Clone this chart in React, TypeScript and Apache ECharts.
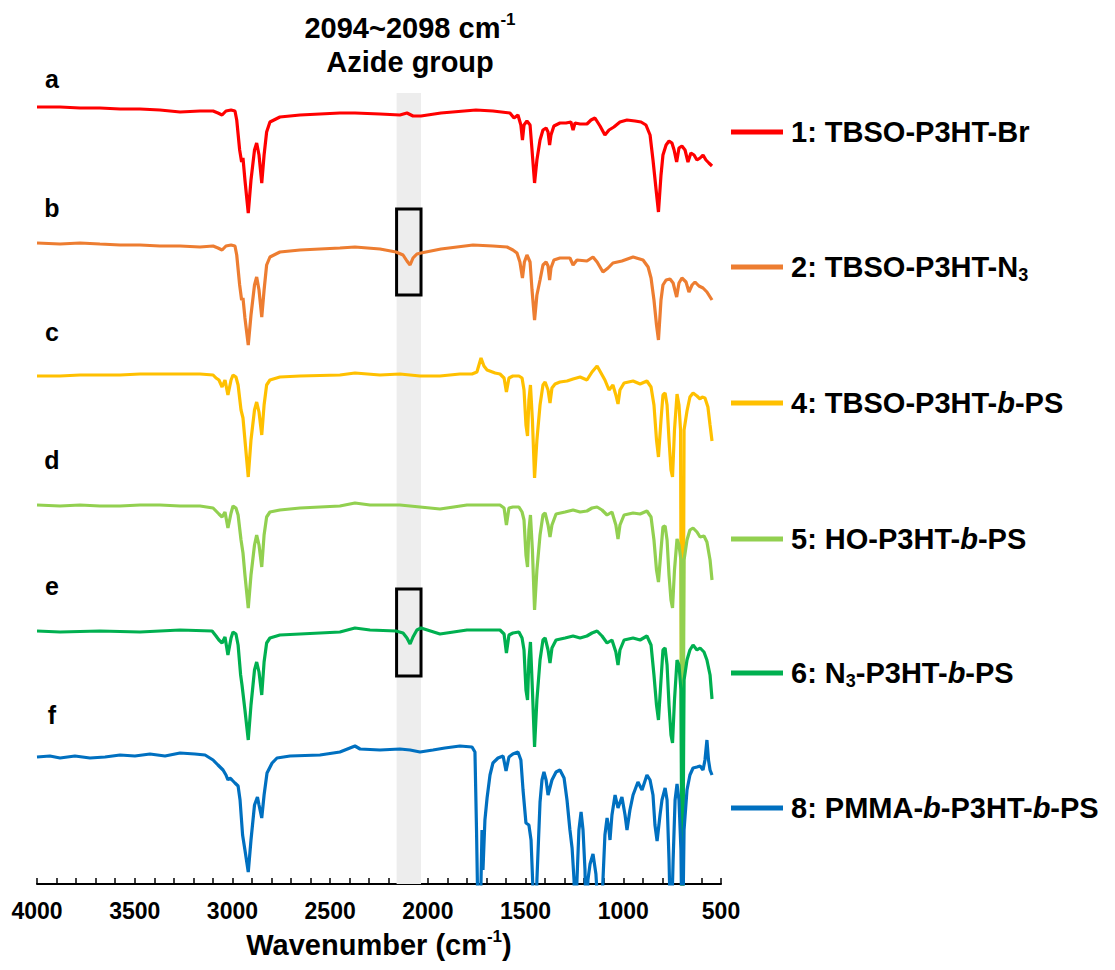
import React, { useEffect, useRef } from "react";
import * as echarts from "echarts";

const FONT = '"Liberation Sans", Arial, Helvetica, sans-serif';

const SERIES_NAMES = [
  "1: TBSO-P3HT-Br",
  "2: TBSO-P3HT-N3",
  "4: TBSO-P3HT-b-PS",
  "5: HO-P3HT-b-PS",
  "6: N3-P3HT-b-PS",
  "8: PMMA-b-P3HT-b-PS",
];
const LEGEND_RICH_TEXT: Record<string, string> = {
  "1: TBSO-P3HT-Br": "1: TBSO-P3HT-Br",
  "2: TBSO-P3HT-N3": "2: TBSO-P3HT-N{sub|3}",
  "4: TBSO-P3HT-b-PS": "4: TBSO-P3HT-{it|b}-PS",
  "5: HO-P3HT-b-PS": "5: HO-P3HT-{it|b}-PS",
  "6: N3-P3HT-b-PS": "6: N{sub|3}-P3HT-{it|b}-PS",
  "8: PMMA-b-P3HT-b-PS": "8: PMMA-{it|b}-P3HT-{it|b}-PS",
};
const SERIES_COLORS = ["#FF0000", "#ED7D31", "#FFC000", "#92D050", "#00B050", "#0070C0"];
const PANEL_LETTERS = ["a", "b", "c", "d", "e", "f"];

// x-axis (wavenumber, cm-1)
const WN_MIN = 500;
const WN_MAX = 4000;
const WN_INTERVAL = 500;
// y-axis: offset transmittance (a.u.)
const T_MIN = 0;
const T_MAX = 791;

// Azide region (cm-1) and the highlighted boxes (a.u.)
const AZIDE_BAND: [number, number] = [2160, 2035];
const AZIDE_BOXES: [number, number][] = [
  [589, 675],
  [208, 295],
];

// Spectra: [wavenumber, offset transmittance]
const spectrumA: [number, number][] = [
  [4000, 777], [3882, 777], [3780, 776], [3678, 776], [3575, 775], [3473, 775], [3371, 774], [3268, 772],
  [3166, 773], [3099, 773], [3074, 771], [3053, 769], [3033, 773], [3007, 774], [2987, 773], [2978, 764],
  [2963, 734], [2953, 722], [2946, 726], [2936, 704], [2919, 671], [2905, 704], [2887, 734], [2876, 741],
  [2864, 729], [2850, 701], [2838, 729], [2825, 752], [2808, 762], [2757, 767], [2654, 769], [2450, 771],
  [2373, 771], [2245, 770], [2143, 769], [2107, 771], [2076, 768], [2035, 768], [1933, 771], [1754, 774],
  [1667, 773], [1580, 771], [1559, 766], [1539, 769], [1524, 759], [1516, 744], [1508, 759], [1493, 763],
  [1477, 759], [1467, 734], [1454, 701], [1442, 724], [1426, 744], [1411, 754], [1395, 756], [1385, 752],
  [1377, 739], [1370, 749], [1355, 758], [1324, 761], [1293, 761], [1268, 762], [1257, 754], [1247, 761],
  [1221, 760], [1186, 760], [1165, 764], [1145, 766], [1119, 758], [1094, 749], [1073, 754], [1048, 757],
  [1017, 762], [981, 764], [940, 763], [909, 762], [884, 759], [863, 749], [848, 724], [832, 694],
  [820, 672], [807, 709], [797, 729], [781, 739], [766, 743], [751, 741], [740, 734], [727, 722],
  [715, 736], [700, 738], [684, 734], [669, 722], [654, 731], [638, 729], [623, 724], [607, 726],
  [592, 729], [577, 724], [562, 721], [546, 718],
];

const spectrumB: [number, number][] = [
  [4000, 641], [3882, 640], [3780, 641], [3678, 640], [3575, 639], [3473, 639], [3371, 638], [3268, 638],
  [3166, 637], [3099, 638], [3074, 636], [3053, 634], [3033, 638], [3007, 639], [2987, 638], [2978, 629],
  [2963, 599], [2953, 584], [2946, 586], [2936, 566], [2919, 539], [2905, 569], [2887, 599], [2876, 607],
  [2864, 594], [2850, 567], [2838, 594], [2825, 619], [2808, 627], [2757, 632], [2654, 634], [2450, 636],
  [2373, 637], [2245, 635], [2163, 632], [2127, 629], [2107, 623], [2091, 619], [2076, 626], [2056, 630],
  [2035, 631], [1933, 635], [1769, 639], [1667, 638], [1595, 637], [1565, 634], [1544, 631], [1529, 622],
  [1516, 606], [1506, 622], [1493, 629], [1477, 622], [1467, 594], [1454, 564], [1442, 589], [1426, 604],
  [1411, 619], [1395, 622], [1385, 618], [1377, 604], [1370, 616], [1355, 624], [1324, 626], [1273, 626],
  [1257, 619], [1237, 624], [1186, 623], [1155, 627], [1134, 622], [1104, 612], [1078, 616], [1053, 621],
  [1007, 623], [950, 627], [899, 624], [873, 617], [858, 606], [843, 584], [830, 559], [820, 544],
  [807, 584], [797, 599], [781, 604], [761, 605], [745, 601], [727, 587], [715, 601], [700, 606],
  [679, 602], [664, 592], [648, 599], [633, 602], [613, 598], [592, 596], [572, 592], [546, 584],
];

const spectrumC: [number, number][] = [
  [4000, 508], [3882, 508], [3780, 509], [3678, 509], [3575, 509], [3473, 510], [3371, 510], [3268, 510],
  [3166, 510], [3099, 509], [3084, 506], [3069, 504], [3053, 497], [3038, 504], [3023, 489], [3007, 504],
  [2997, 509], [2982, 507], [2971, 499], [2956, 474], [2946, 466], [2936, 444], [2919, 407], [2905, 444],
  [2887, 474], [2876, 482], [2864, 472], [2850, 449], [2838, 479], [2825, 499], [2808, 504], [2757, 507],
  [2654, 508], [2450, 509], [2373, 511], [2245, 509], [2143, 510], [2040, 508], [1938, 508], [1836, 510],
  [1774, 510], [1749, 512], [1728, 526], [1713, 518], [1697, 514], [1656, 511], [1631, 510], [1610, 506],
  [1598, 492], [1585, 506], [1565, 508], [1534, 508], [1518, 506], [1508, 494], [1498, 459], [1490, 448],
  [1483, 484], [1475, 499], [1465, 464], [1454, 406], [1442, 444], [1426, 479], [1411, 499], [1400, 502],
  [1385, 494], [1375, 481], [1365, 496], [1349, 500], [1324, 502], [1288, 503], [1257, 505], [1221, 507],
  [1186, 504], [1160, 512], [1134, 518], [1114, 511], [1094, 504], [1073, 494], [1053, 499], [1038, 489],
  [1027, 480], [1017, 494], [996, 501], [950, 503], [914, 500], [879, 503], [858, 497], [843, 479],
  [830, 444], [820, 427], [807, 464], [797, 489], [786, 491], [776, 479], [766, 444], [756, 414],
  [748, 407], [738, 454], [725, 490], [715, 479], [707, 454], [698, -80], [689, 454], [674, 473],
  [659, 487], [643, 491], [623, 488], [607, 485], [597, 487], [582, 486], [567, 477], [556, 459],
  [546, 443],
];

const spectrumD: [number, number][] = [
  [4000, 379], [3882, 378], [3780, 379], [3678, 378], [3575, 378], [3473, 379], [3371, 379], [3268, 378],
  [3166, 378], [3099, 376], [3084, 373], [3069, 370], [3053, 367], [3038, 372], [3023, 356], [3007, 371],
  [2997, 378], [2982, 376], [2971, 369], [2956, 344], [2946, 331], [2936, 309], [2919, 276], [2905, 309],
  [2887, 339], [2876, 349], [2864, 339], [2850, 317], [2838, 349], [2825, 367], [2808, 372], [2757, 374],
  [2654, 376], [2450, 378], [2373, 381], [2296, 379], [2143, 379], [2040, 377], [1938, 375], [1800, 379],
  [1631, 379], [1610, 376], [1598, 359], [1585, 376], [1565, 377], [1534, 377], [1518, 372], [1508, 364],
  [1498, 329], [1490, 317], [1483, 354], [1475, 369], [1465, 334], [1454, 274], [1442, 314], [1426, 349],
  [1411, 369], [1400, 371], [1385, 359], [1375, 347], [1365, 359], [1344, 370], [1298, 372], [1257, 374],
  [1221, 372], [1186, 373], [1160, 376], [1134, 377], [1109, 374], [1083, 369], [1058, 372], [1038, 359],
  [1027, 345], [1017, 359], [996, 369], [950, 371], [914, 370], [879, 373], [858, 367], [843, 344],
  [830, 314], [820, 302], [807, 334], [797, 357], [786, 358], [776, 344], [766, 309], [756, 284],
  [748, 276], [738, 314], [725, 345], [715, 339], [705, 324], [698, -80], [689, 324], [674, 344],
  [659, 354], [643, 356], [623, 352], [607, 347], [587, 348], [572, 342], [556, 324], [546, 304],
];

const spectrumE: [number, number][] = [
  [4000, 253], [3882, 252], [3678, 253], [3473, 252], [3268, 254], [3104, 253], [3084, 248], [3069, 244],
  [3053, 241], [3038, 247], [3023, 229], [3007, 246], [2997, 252], [2982, 250], [2971, 239], [2958, 209],
  [2951, 199], [2936, 174], [2919, 144], [2905, 179], [2887, 214], [2876, 222], [2864, 212], [2850, 189],
  [2838, 222], [2825, 241], [2808, 246], [2757, 249], [2654, 250], [2450, 252], [2373, 256], [2296, 254],
  [2163, 253], [2127, 251], [2107, 246], [2091, 240], [2076, 247], [2056, 254], [2035, 256], [1938, 250],
  [1800, 254], [1631, 254], [1610, 250], [1598, 231], [1585, 249], [1565, 251], [1534, 252], [1518, 246],
  [1508, 234], [1498, 194], [1490, 184], [1483, 224], [1475, 242], [1465, 194], [1454, 137], [1442, 184],
  [1426, 224], [1411, 244], [1400, 246], [1385, 234], [1375, 221], [1365, 236], [1344, 244], [1298, 246],
  [1257, 248], [1221, 246], [1186, 248], [1160, 251], [1134, 253], [1109, 248], [1083, 241], [1058, 244],
  [1038, 232], [1027, 219], [1017, 234], [996, 244], [950, 246], [914, 244], [879, 248], [858, 239],
  [843, 209], [830, 179], [820, 164], [807, 204], [797, 234], [786, 236], [776, 219], [766, 179],
  [756, 149], [748, 141], [738, 184], [725, 224], [715, 219], [705, 194], [698, -80], [689, 204],
  [674, 224], [659, 234], [643, 239], [623, 234], [607, 236], [587, 232], [572, 224], [556, 209],
  [546, 185],
];

const spectrumF: [number, number][] = [
  [4000, 127], [3934, 128], [3882, 126], [3806, 128], [3729, 126], [3652, 127], [3575, 129], [3499, 128],
  [3422, 130], [3345, 128], [3268, 131], [3192, 130], [3140, 129], [3099, 124], [3074, 119], [3048, 114],
  [3033, 109], [3023, 104], [3013, 106], [3002, 104], [2987, 101], [2971, 98], [2961, 84], [2948, 49],
  [2936, 34], [2919, 12], [2905, 44], [2887, 79], [2872, 87], [2864, 79], [2850, 66], [2838, 89],
  [2823, 111], [2797, 121], [2772, 126], [2705, 128], [2552, 129], [2450, 132], [2373, 138], [2347, 135],
  [2245, 134], [2143, 135], [2091, 134], [2040, 132], [1974, 134], [1913, 136], [1836, 138], [1774, 137],
  [1759, 132], [1751, 54], [1738, -100], [1723, 54], [1718, 14], [1708, 64], [1697, 86], [1682, 109],
  [1667, 121], [1641, 126], [1615, 128], [1600, 113], [1585, 127], [1565, 130], [1539, 132], [1524, 124],
  [1513, 94], [1498, 61], [1483, 59], [1472, 44], [1462, -6], [1452, -80], [1442, 4], [1426, 82],
  [1416, 104], [1406, 112], [1395, 104], [1385, 89], [1365, 104], [1344, 112], [1324, 114], [1303, 106],
  [1288, 84], [1273, 54], [1262, 36], [1252, 4], [1245, -60], [1237, 4], [1227, 54], [1216, 72],
  [1206, 54], [1196, 14], [1188, -60], [1181, 4], [1170, 20], [1155, 30], [1140, 10], [1119, -60],
  [1104, 4], [1094, 49], [1083, 66], [1073, 54], [1068, 44], [1058, 69], [1042, 89], [1027, 76],
  [1007, 87], [991, 69], [981, 54], [966, 74], [950, 89], [925, 102], [904, 94], [879, 109],
  [863, 104], [848, 89], [838, 59], [827, 43], [812, 69], [802, 84], [786, 96], [776, 84],
  [766, 24], [756, -60], [745, 24], [735, 84], [725, 100], [715, 84], [705, 34], [698, -80],
  [689, 54], [674, 94], [659, 109], [643, 116], [623, 117], [607, 118], [592, 114], [582, 124],
  [572, 144], [564, 124], [556, 114], [546, 109],
];

const SPECTRA = [spectrumA, spectrumB, spectrumC, spectrumD, spectrumE, spectrumF];

// layout (pixels)
const LEGEND_CENTERS = [132, 267, 403, 539, 673, 808];
const LETTER_Y = [79, 208, 332, 460, 586, 715];

export default function App() {
  const ref = useRef<HTMLDivElement>(null);

  useEffect(() => {
    if (!ref.current) return;
    const chart = echarts.init(ref.current, undefined, { renderer: "svg" });

    const boldText = { fontFamily: FONT, fontWeight: "bold" as const, color: "#000" };

    const legendRich = {
      sub: { ...boldText, fontSize: 18, lineHeight: 16, verticalAlign: "bottom" as const },
      it: { ...boldText, fontSize: 29, fontStyle: "italic" as const, lineHeight: 34 },
    };

    const lineSeries = SERIES_NAMES.map((name, i) => ({
      name,
      type: "line" as const,
      data: SPECTRA[i],
      showSymbol: false,
      symbol: "none",
      clip: true,
      color: SERIES_COLORS[i],
      lineStyle: { color: SERIES_COLORS[i], width: 3.2 },
      emphasis: { disabled: true },
      z: 3,
    }));

    const option: any = {
      animation: false,
      grid: { left: 37, right: 394, top: 93, bottom: 86, containLabel: false },
      xAxis: {
        type: "value",
        min: WN_MIN,
        max: WN_MAX,
        interval: WN_INTERVAL,
        inverse: true,
        axisLine: { show: true, onZero: false, lineStyle: { color: "#000", width: 2 } },
        axisTick: { show: true, inside: true, length: 6, lineStyle: { color: "#000", width: 1.5 } },
        minorTick: { show: true, splitNumber: 5, length: 6, lineStyle: { color: "#000", width: 1.5 } },
        axisLabel: {
          ...boldText,
          fontSize: 23,
          margin: 15,
          showMinLabel: true,
          showMaxLabel: true,
          formatter: (v: number) => String(v),
        },
        splitLine: { show: false },
        name: "Wavenumber (cm{sup|-1})",
        nameLocation: "middle",
        nameGap: 44,
        nameTextStyle: {
          ...boldText,
          fontSize: 29,
          lineHeight: 34,
          rich: { sup: { ...boldText, fontSize: 17, lineHeight: 17, verticalAlign: "top" } },
        },
      },
      yAxis: { type: "value", min: T_MIN, max: T_MAX, show: false },
      legend: SERIES_NAMES.map((name, i) => ({
        data: [name],
        left: 731,
        top: LEGEND_CENTERS[i] - 17,
        padding: 0,
        icon: "rect",
        itemWidth: 52,
        itemHeight: 5,
        selectedMode: false,
        formatter: (n: string) => LEGEND_RICH_TEXT[n] ?? n,
        textStyle: { ...boldText, fontSize: 29, lineHeight: 34, padding: [0, 0, 0, 3], rich: legendRich },
      })),
      series: [
        {
          name: "azide-band",
          type: "line",
          data: [],
          silent: true,
          z: 1,
          markArea: {
            silent: true,
            itemStyle: { color: "#EDEDED" },
            data: [[{ xAxis: AZIDE_BAND[0], yAxis: T_MIN }, { xAxis: AZIDE_BAND[1], yAxis: T_MAX }]],
          },
        },
        ...lineSeries,
        {
          name: "azide-boxes",
          type: "line",
          data: [],
          silent: true,
          z: 10,
          markArea: {
            silent: true,
            itemStyle: { color: "rgba(0,0,0,0)", borderColor: "#000", borderWidth: 3 },
            data: AZIDE_BOXES.map(([lo, hi]) => [
              { xAxis: AZIDE_BAND[0], yAxis: lo },
              { xAxis: AZIDE_BAND[1], yAxis: hi },
            ]),
          },
        },
      ],
      graphic: [
        ...PANEL_LETTERS.map((t, i) => ({
          type: "text",
          x: 52,
          y: LETTER_Y[i],
          style: {
            text: t,
            fill: "#000",
            fontSize: 25,
            fontWeight: "bold",
            fontFamily: FONT,
            align: "center",
            verticalAlign: "middle",
            textAlign: "center",
            textVerticalAlign: "middle",
          },
        })),
        {
          type: "text",
          x: 410,
          y: 28,
          style: {
            text: "2094~2098 cm{sup|-1}",
            fill: "#000",
            fontSize: 29,
            fontWeight: "bold",
            fontFamily: FONT,
            lineHeight: 34,
            align: "center",
            verticalAlign: "middle",
            textAlign: "center",
            textVerticalAlign: "middle",
            rich: {
              sup: { fill: "#000", fontSize: 17, fontWeight: "bold", fontFamily: FONT, lineHeight: 17, verticalAlign: "top" },
            },
          },
        },
        {
          type: "text",
          x: 410,
          y: 62,
          style: {
            text: "Azide group",
            fill: "#000",
            fontSize: 29,
            fontWeight: "bold",
            fontFamily: FONT,
            align: "center",
            verticalAlign: "middle",
            textAlign: "center",
            textVerticalAlign: "middle",
          },
        },
      ],
    };

    chart.setOption(option);
    return () => chart.dispose();
  }, []);

  return (
    <div
      ref={ref}
      style={{ position: "absolute", left: 0, top: 0, width: 1115, height: 970, background: "#fff" }}
    />
  );
}
